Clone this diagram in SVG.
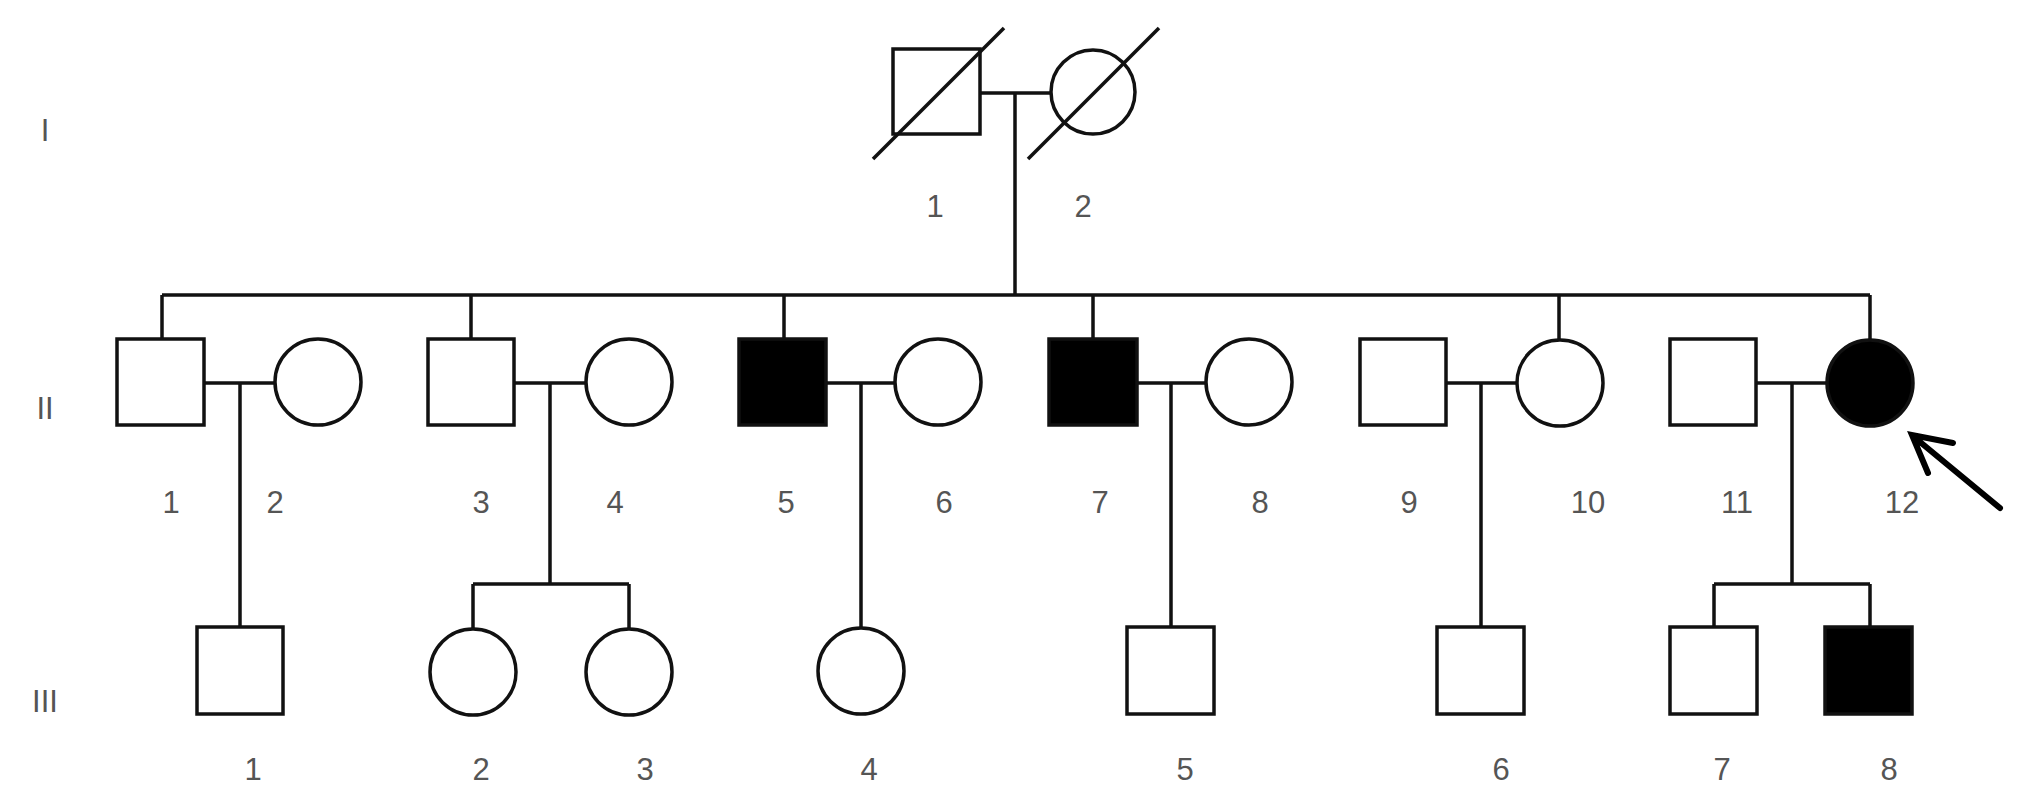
<svg xmlns="http://www.w3.org/2000/svg" width="2031" height="806" viewBox="0 0 2031 806">
<style>
.sq{fill:#fff;stroke:#111;stroke-width:3.5}
.aff{fill:#000;stroke:#111;stroke-width:3.5}
.ci{fill:#fff;stroke:#111;stroke-width:3.5}
.ln{stroke:#111;stroke-width:3.5;fill:none}
.lb{font-family:"Liberation Sans",Arial,sans-serif;font-size:31px;fill:#555;text-anchor:middle}
</style>
<rect width="2031" height="806" fill="#fff"/>
<g id="generations">
<text class="lb" x="45" y="141">I</text>
<text class="lb" x="45" y="419">II</text>
<text class="lb" x="45" y="712">III</text>
</g>
<g id="connectors" class="ln">
<path d="M980 93H1050M1015 93V295"/>
<path d="M162 295H1870M162 295V339M471 295V339M784 295V339M1093 295V339M1559 295V340M1870 295V340"/>
<path d="M204 383H275M240 383V627"/>
<path d="M514 383H586M550 383V584M473 584H629M473 584V629M629 584V629"/>
<path d="M826 383H895M861 383V628"/>
<path d="M1137 383H1206M1171 383V627"/>
<path d="M1446 383H1517M1481 383V627"/>
<path d="M1756 383H1827M1792 383V584M1714 584H1870M1714 584V627M1870 584V627"/>
</g>
<g id="I-1"><rect class="sq" x="893" y="49" width="87" height="85"/><line class="ln" x1="873" y1="159" x2="1004" y2="28"/><text class="lb" x="935" y="217">1</text></g>
<g id="I-2"><circle class="ci" cx="1093" cy="92" r="42"/><line class="ln" x1="1028" y1="159" x2="1159" y2="28"/><text class="lb" x="1083" y="217">2</text></g>
<g id="II-1"><rect class="sq" x="117" y="339" width="87" height="86"/><text class="lb" x="171" y="513">1</text></g>
<g id="II-2"><circle class="ci" cx="318" cy="382" r="43"/><text class="lb" x="275" y="513">2</text></g>
<g id="II-3"><rect class="sq" x="428" y="339" width="86" height="86"/><text class="lb" x="481" y="513">3</text></g>
<g id="II-4"><circle class="ci" cx="629" cy="382" r="43"/><text class="lb" x="615" y="513">4</text></g>
<g id="II-5"><rect class="aff" x="739" y="339" width="87" height="86"/><text class="lb" x="786" y="513">5</text></g>
<g id="II-6"><circle class="ci" cx="938" cy="382" r="43"/><text class="lb" x="944" y="513">6</text></g>
<g id="II-7"><rect class="aff" x="1049" y="339" width="88" height="86"/><text class="lb" x="1100" y="513">7</text></g>
<g id="II-8"><circle class="ci" cx="1249" cy="382" r="43"/><text class="lb" x="1260" y="513">8</text></g>
<g id="II-9"><rect class="sq" x="1360" y="339" width="86" height="86"/><text class="lb" x="1409" y="513">9</text></g>
<g id="II-10"><circle class="ci" cx="1560" cy="383" r="43"/><text class="lb" x="1588" y="513">10</text></g>
<g id="II-11"><rect class="sq" x="1670" y="339" width="86" height="86"/><text class="lb" x="1737" y="513">11</text></g>
<g id="II-12"><circle class="aff" cx="1870" cy="383" r="43"/><text class="lb" x="1902" y="513">12</text></g>
<g id="proband-arrow"><path d="M2000 508L1914 437M1953 443L1912 435L1928 473" fill="none" stroke="#000" stroke-width="6" stroke-linecap="round" stroke-linejoin="miter"/></g>
<g id="III-1"><rect class="sq" x="197" y="627" width="86" height="87"/><text class="lb" x="253" y="780">1</text></g>
<g id="III-2"><circle class="ci" cx="473" cy="672" r="43"/><text class="lb" x="481" y="780">2</text></g>
<g id="III-3"><circle class="ci" cx="629" cy="672" r="43"/><text class="lb" x="645" y="780">3</text></g>
<g id="III-4"><circle class="ci" cx="861" cy="671" r="43"/><text class="lb" x="869" y="780">4</text></g>
<g id="III-5"><rect class="sq" x="1127" y="627" width="87" height="87"/><text class="lb" x="1185" y="780">5</text></g>
<g id="III-6"><rect class="sq" x="1437" y="627" width="87" height="87"/><text class="lb" x="1501" y="780">6</text></g>
<g id="III-7"><rect class="sq" x="1670" y="627" width="87" height="87"/><text class="lb" x="1722" y="780">7</text></g>
<g id="III-8"><rect class="aff" x="1825" y="627" width="87" height="87"/><text class="lb" x="1889" y="780">8</text></g>
</svg>
